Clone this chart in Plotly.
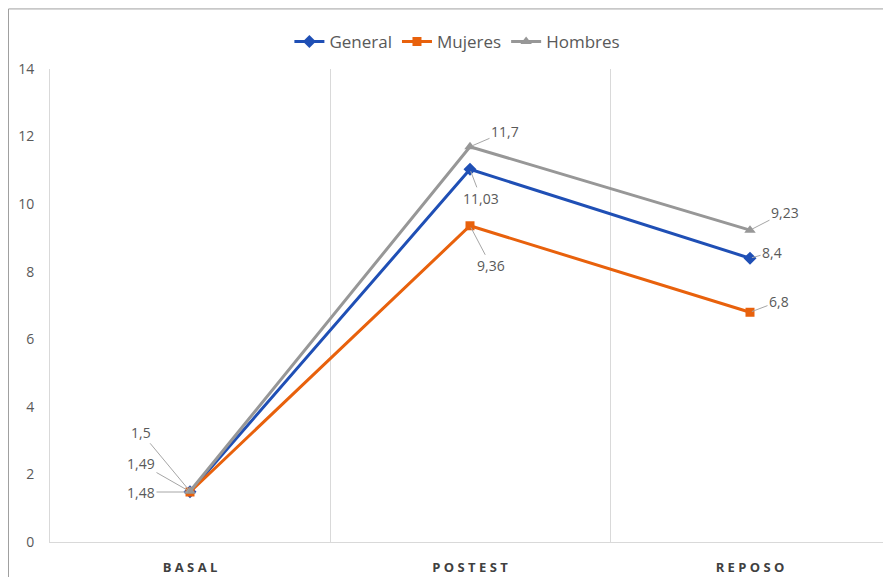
import plotly.graph_objects as go

categories = ["BASAL", "POSTEST", "REPOSO"]
tick_text = ["B A S A L", "P O S T E S T", "R E P O S O"]
general = [1.49, 11.03, 8.4]
mujeres = [1.48, 9.36, 6.8]
hombres = [1.5, 11.7, 9.23]

def fmt(v):
    return str(v).replace(".", ",")

fig = go.Figure()
series = [
    ("General", general, "#1F4FB5", "diamond", 10),
    ("Mujeres", mujeres, "#E8610C", "square", 9),
    ("Hombres", hombres, "#979797", "triangle-up", 10),
]
for name, vals, col, sym, ms in series:
    fig.add_trace(go.Scatter(
        x=categories, y=vals, name=name, mode="lines+markers",
        line=dict(color=col, width=3),
        marker=dict(symbol=sym, size=ms, color=col),
    ))

# label offsets (pixels) per series, per category
offsets = {
    "General": [(-49, -28), (11, 29), (22, -6)],
    "Mujeres": [(-49, 0), (21, 40), (29, -11)],
    "Hombres": [(-49, -59), (35, -15), (35, -18)],
}
for name, vals, col, sym, ms in series:
    for cat, v, (ax, ay) in zip(categories, vals, offsets[name]):
        fig.add_annotation(
            x=cat, y=v, text=fmt(v), showarrow=True, arrowhead=0,
            arrowwidth=1, arrowcolor="#a6a6a6", ax=ax, ay=ay, standoff=2,
            font=dict(family="Open Sans", size=14, color="#595959"),
        )

# outer frame
fig.add_shape(type="rect", xref="paper", yref="paper",
              x0=-0.0494, x1=1.01, y0=-0.1, y1=1.127,
              line=dict(color="#a0a0a0", width=1), layer="below")

fig.update_layout(
    width=882, height=569,
    margin=dict(l=42, r=0, t=61, b=35),
    paper_bgcolor="white", plot_bgcolor="white",
    font=dict(family="Open Sans", color="#595959"),
    legend=dict(orientation="h", x=0.485, xanchor="center", y=1.057, yanchor="middle",
                font=dict(size=17, color="#595959"), itemwidth=30, tracegroupgap=0),
    showlegend=True,
)
fig.update_xaxes(
    type="category", tickson="boundaries", showgrid=True, gridcolor="#d9d9d9",
    tickvals=categories, ticktext=tick_text, ticks="",
    showline=True, linecolor="#d9d9d9", linewidth=1,
    tickfont=dict(family="Open Sans", size=13, color="#404040", weight="bold"),
    range=[-0.5, 2.5], mirror=False, zeroline=False, ticklabelstandoff=13,
)
fig.update_yaxes(
    range=[0, 14], dtick=2, showgrid=False, zeroline=False,
    showline=True, linecolor="#d9d9d9", linewidth=1,
    tickfont=dict(family="Open Sans", size=14, color="#595959"),
    ticks="", ticklabelstandoff=12,
)

fig.write_html("out.html")
